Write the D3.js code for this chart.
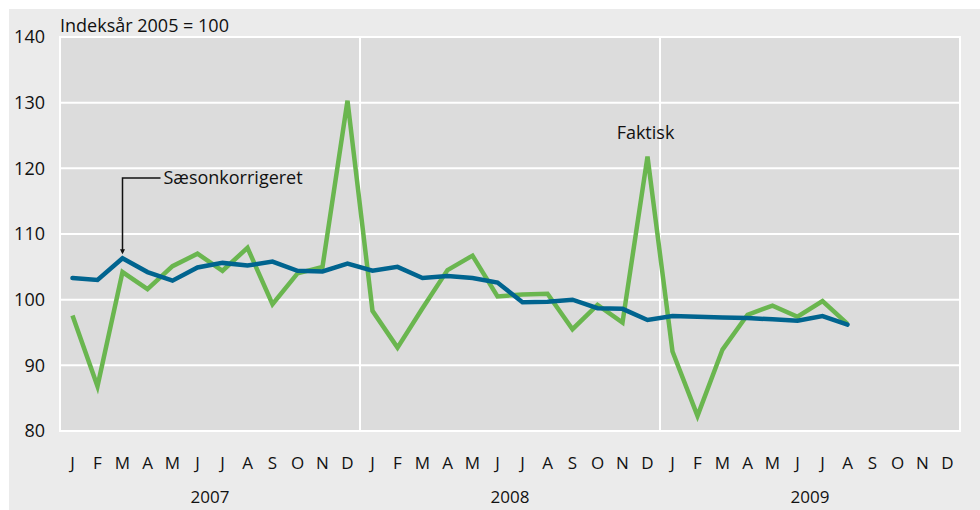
<!DOCTYPE html>
<html>
<head>
<meta charset="utf-8">
<script src="https://cdn.jsdelivr.net/npm/d3@7"></script>
<style>
  body { margin: 0; background: #ffffff; }
  svg text { font-family: "Open Sans", "Noto Sans", sans-serif; fill: #111; }
</style>
</head>
<body>
<script>
//chart data
var years = ["2007", "2008", "2009"];
var monthLetters = ["J", "F", "M", "A", "M", "J", "J", "A", "S", "O", "N", "D"];
var yTicks = [80, 90, 100, 110, 120, 130, 140];

//actual index (Faktisk)
var faktisk = [
    97.6, 86.8, 104.2, 101.6, 105.1, 107.0, 104.4, 107.9, 99.3, 104.0, 105.0, 130.3,
    98.3, 92.7, 98.7, 104.5, 106.7, 100.5, 100.8, 100.9, 95.5, 99.2, 96.5, 121.8,
    92.1, 82.3, 92.4, 97.7, 99.1, 97.4, 99.8, 96.3
];
//seasonally adjusted (Sæsonkorrigeret)
var saeson = [
    103.3, 103.0, 106.3, 104.2, 102.9, 104.9, 105.6, 105.2, 105.8, 104.4, 104.3, 105.5,
    104.4, 105.0, 103.3, 103.6, 103.3, 102.6, 99.6, 99.7, 100.0, 98.7, 98.6, 96.9,
    97.5, 97.4, 97.3, 97.2, 97.0, 96.8, 97.5, 96.2
];

var width = 980, height = 510;
var margin = {left: 60, right: 20, top: 37, bottom: 79};

var svg = d3.select("body")
    .append("svg")
    .attr("width", width)
    .attr("height", height);

//outer panel
svg.append("rect")
    .attr("x", 9).attr("y", 9)
    .attr("width", width - 9).attr("height", height - 9)
    .attr("fill", "#ebebeb");

//one slot per month over three years
var months = d3.range(years.length * 12);
var x = d3.scaleBand()
    .domain(months)
    .range([margin.left, width - margin.right]);

var y = d3.scaleLinear()
    .domain([80, 140])
    .range([height - margin.bottom, margin.top]);

//plot area
svg.append("rect")
    .attr("x", margin.left).attr("y", margin.top)
    .attr("width", width - margin.left - margin.right)
    .attr("height", height - margin.top - margin.bottom)
    .attr("fill", "#dcdcdc")
    .attr("stroke", "#ffffff")
    .attr("stroke-width", 2);

//horizontal gridlines
svg.selectAll(".grid")
    .data(yTicks)
    .enter()
    .append("line")
    .attr("class", "grid")
    .attr("x1", margin.left).attr("x2", width - margin.right)
    .attr("y1", function(d){ return y(d); })
    .attr("y2", function(d){ return y(d); })
    .attr("stroke", "#ffffff")
    .attr("stroke-width", 2);

//year separators
svg.selectAll(".ysep")
    .data([12, 24])
    .enter()
    .append("line")
    .attr("class", "ysep")
    .attr("x1", function(d){ return x(d); })
    .attr("x2", function(d){ return x(d); })
    .attr("y1", margin.top).attr("y2", height - margin.bottom)
    .attr("stroke", "#ffffff")
    .attr("stroke-width", 2);

//y axis labels
var yAxis = d3.axisLeft(y).tickValues(yTicks).tickSize(0).tickPadding(0);
var yg = svg.append("g")
    .attr("transform", "translate(45,0)")
    .call(yAxis);
yg.select(".domain").remove();
yg.selectAll("text")
    .attr("font-size", 18)
    .attr("font-family", "Open Sans, sans-serif")
    .attr("fill", "#111");

//month letters
var xAxis = d3.axisBottom(x).tickSize(0).tickPadding(0)
    .tickFormat(function(d){ return monthLetters[d % 12]; });
var xg = svg.append("g")
    .attr("transform", "translate(0," + (height - margin.bottom + 26) + ")")
    .call(xAxis);
xg.select(".domain").remove();
xg.selectAll("text")
    .attr("font-size", 17)
    .attr("font-family", "Open Sans, sans-serif")
    .attr("fill", "#111");

//year labels
svg.selectAll(".year")
    .data(years)
    .enter()
    .append("text")
    .attr("class", "year")
    .attr("x", function(d, i){ return (x(i * 12) + x(i * 12 + 11) + x.bandwidth()) / 2; })
    .attr("y", 503)
    .attr("text-anchor", "middle")
    .attr("font-size", 17)
    .text(function(d){ return d; });

//title
svg.append("text")
    .attr("x", margin.left).attr("y", 32)
    .attr("font-size", 18)
    .text("Indeksår 2005 = 100");

var line = d3.line()
    .x(function(d, i){ return x(i) + x.bandwidth() / 2; })
    .y(function(d){ return y(d); });

svg.append("path")
    .datum(faktisk)
    .attr("fill", "none")
    .attr("stroke", "#6ab64f")
    .attr("stroke-width", 4.5)
    .attr("stroke-linejoin", "miter")
    .attr("d", line);

svg.append("path")
    .datum(saeson)
    .attr("fill", "none")
    .attr("stroke", "#00648f")
    .attr("stroke-width", 4.5)
    .attr("stroke-linecap", "round")
    .attr("d", line);

//annotation: seasonally adjusted
var ax = x(2) + x.bandwidth() / 2;
svg.append("path")
    .attr("d", "M" + (ax + 38) + "," + 178 + "H" + ax + "V" + (y(saeson[2]) - 6))
    .attr("fill", "none")
    .attr("stroke", "#111")
    .attr("stroke-width", 1.5);
svg.append("path")
    .attr("d", "M" + (ax - 2.5) + "," + (y(saeson[2]) - 9) + "L" + (ax + 2.5) + "," + (y(saeson[2]) - 9) + "L" + ax + "," + (y(saeson[2]) - 4) + "Z")
    .attr("fill", "#111");
svg.append("text")
    .attr("x", ax + 41).attr("y", 184)
    .attr("font-size", 18)
    .text("Sæsonkorrigeret");

//annotation: actual
svg.append("text")
    .attr("x", x(23) + x.bandwidth() / 2 - 2).attr("y", 139)
    .attr("text-anchor", "middle")
    .attr("font-size", 18)
    .text("Faktisk");
</script>
</body>
</html>
